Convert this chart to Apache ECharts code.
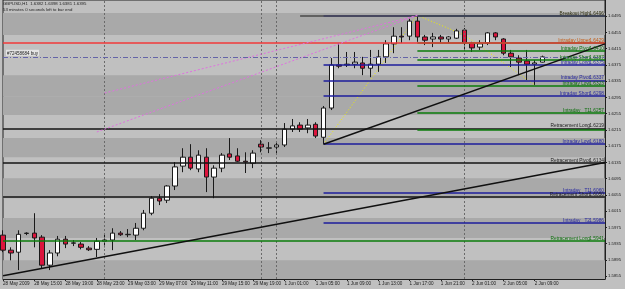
<!DOCTYPE html>
<html>
<head>
<meta charset="utf-8">
<script src="https://cdn.jsdelivr.net/npm/echarts@6/dist/echarts.min.js"></script>
<style>
html, body { margin: 0; padding: 0; background: #c0c0c0; }
#chart { width: 625px; height: 289px; }
</style>
</head>
<body>
<div id="chart"></div>
<script>
// hourly bars, GBPUSD H1 (last 8 slots are the empty shift area on the right)
const categories = [
  "28 May 11:00","28 May 12:00","28 May 13:00","28 May 14:00","28 May 15:00","28 May 16:00","28 May 17:00",
  "28 May 18:00","28 May 19:00","28 May 20:00","28 May 21:00","28 May 22:00","28 May 23:00",
  "29 May 00:00","29 May 01:00","29 May 02:00","29 May 03:00","29 May 04:00","29 May 05:00","29 May 06:00",
  "29 May 07:00","29 May 08:00","29 May 09:00","29 May 10:00","29 May 11:00","29 May 12:00","29 May 13:00",
  "29 May 14:00","29 May 15:00","29 May 16:00","29 May 17:00","29 May 18:00","29 May 19:00",
  "31 May 22:00","31 May 23:00",
  "1 Jun 00:00","1 Jun 01:00","1 Jun 02:00","1 Jun 03:00","1 Jun 04:00","1 Jun 05:00","1 Jun 06:00",
  "1 Jun 07:00","1 Jun 08:00","1 Jun 09:00","1 Jun 10:00","1 Jun 11:00","1 Jun 12:00","1 Jun 13:00",
  "1 Jun 14:00","1 Jun 15:00","1 Jun 16:00","1 Jun 17:00","1 Jun 18:00","1 Jun 19:00","1 Jun 20:00",
  "1 Jun 21:00","1 Jun 22:00","1 Jun 23:00",
  "2 Jun 00:00","2 Jun 01:00","2 Jun 02:00","2 Jun 03:00","2 Jun 04:00","2 Jun 05:00","2 Jun 06:00",
  "2 Jun 07:00","2 Jun 08:00","2 Jun 09:00","2 Jun 10:00",
  "2 Jun 11:00","2 Jun 12:00","2 Jun 13:00","2 Jun 14:00","2 Jun 15:00","2 Jun 16:00","2 Jun 17:00","2 Jun 18:00"
];
const firstLabel = "28 May 2009";
const barCount = 70;

const opens = [1.5956,1.5919,1.5914,1.5960,1.5961,1.5951,1.5882,1.5912,1.5946,1.5936,
  1.5934,1.5924,1.5921,1.5941,1.5944,1.5961,1.5957,1.5956,1.5973,1.6010,
  1.6047,1.6042,1.6077,1.6126,1.6148,1.6119,1.6148,1.6099,1.6121,1.6156,
  1.6151,1.6138,1.6133,1.6180,1.6170,1.6173,1.6178,1.6217,1.6227,1.6220,
  1.6229,1.6197,1.6269,1.6375,1.6375,1.6377,1.6380,1.6367,1.6377,1.6395,
  1.6427,1.6446,1.6446,1.6483,1.6444,1.6439,1.6444,1.6439,1.6441,1.6461,
  1.6429,1.6419,1.6429,1.6454,1.6439,1.6404,1.6392,1.6385,1.6377,1.6382];
const closes = [1.5919,1.5912,1.5958,1.5961,1.5949,1.5882,1.5912,1.5946,1.5934,1.5937,
  1.5926,1.5920,1.5941,1.5944,1.5961,1.5957,1.5958,1.5973,1.6010,1.6047,
  1.6040,1.6077,1.6124,1.6148,1.6121,1.6153,1.6099,1.6121,1.6153,1.6148,
  1.6138,1.6136,1.6158,1.6173,1.6171,1.6178,1.6217,1.6225,1.6217,1.6227,
  1.6200,1.6269,1.6375,1.6372,1.6377,1.6382,1.6367,1.6377,1.6395,1.6427,
  1.6446,1.6444,1.6483,1.6444,1.6436,1.6444,1.6439,1.6444,1.6459,1.6429,
  1.6417,1.6427,1.6454,1.6444,1.6404,1.6395,1.6382,1.6377,1.6380,1.6395];
const lows = [1.5914,1.5894,1.5870,1.5956,1.5926,1.5875,1.5870,1.5904,1.5924,1.5929,
  1.5921,1.5917,1.5902,1.5926,1.5919,1.5954,1.5951,1.5944,1.5968,1.6005,
  1.6030,1.6035,1.6067,1.6111,1.6116,1.6111,1.6062,1.6047,1.6111,1.6141,
  1.6136,1.6109,1.6121,1.6160,1.6158,1.6158,1.6173,1.6210,1.6210,1.6207,
  1.6195,1.6180,1.6264,1.6367,1.6370,1.6367,1.6350,1.6345,1.6358,1.6380,
  1.6404,1.6429,1.6436,1.6432,1.6424,1.6419,1.6429,1.6429,1.6439,1.6412,
  1.6407,1.6412,1.6424,1.6436,1.6399,1.6370,1.6350,1.6338,1.6326,1.6381];
const highs = [1.5968,1.5926,1.5968,1.5963,1.6010,1.5956,1.5919,1.5954,1.5954,1.5944,
  1.5939,1.5929,1.5949,1.5961,1.5973,1.5966,1.5971,1.5986,1.6018,1.6052,
  1.6057,1.6079,1.6136,1.6170,1.6180,1.6165,1.6170,1.6128,1.6158,1.6195,
  1.6170,1.6160,1.6165,1.6190,1.6185,1.6185,1.6232,1.6242,1.6234,1.6242,
  1.6234,1.6274,1.6392,1.6429,1.6407,1.6407,1.6395,1.6412,1.6412,1.6436,
  1.6468,1.6468,1.6491,1.6496,1.6449,1.6454,1.6449,1.6446,1.6464,1.6466,
  1.6432,1.6436,1.6456,1.6456,1.6441,1.6412,1.6399,1.6412,1.6387,1.6398];

const priceTicks = [1.5855,1.5895,1.5935,1.5975,1.6015,1.6055,1.6095,1.6135,1.6175,
  1.6215,1.6255,1.6295,1.6335,1.6375,1.6415,1.6455,1.6495];

// pivot / retracement levels drawn by the indicator
const levelNames = ["Breakout High","","","Intraday Upper","","Intraday Pivot","Intraday Short","Intraday Long",
  "Intraday Pivot","Intraday Low","Intraday Short","Intraday   T1","Retracement Long","","Intraday Low",
  "Retracement Pivot","Intraday   T1","Retracement Short","Intraday   T2","Retracement Long"];
const levelPrices = [1.6496,1.6496,1.6496,1.6429,1.6429,1.6410,1.6387,1.6375,1.6337,1.6323,1.6298,1.6257,
  1.6219,1.6216,1.6180,1.6134,1.6060,1.6050,1.5986,1.5941];
const levelFromBar = [53,41,38,53,0,53,53,41,41,53,41,53,0,53,41,0,41,0,41,0];
const levelSet = ["green","blue","dark","green","red","green","green","blue","blue","green","blue","green",
  "black","green","blue","black","blue","black","blue","green"];
const levelTone = ["dark","","","orange","","green","green","blue","blue","green","blue","green",
  "black","","blue","black","blue","black","blue","green"];

// trend lines [bar, price] -> [bar, price]
const trendFrom = [[0, 1.5856], [41, 1.6180]];
const trendTo = [[77, 1.6135], [77, 1.6427]];
// fan lines to the high
const fanFrom = [[13, 1.6306], [12, 1.6210]];
const fanTo = [[53, 1.6497], [53, 1.6497]];
// zigzag
const zigBars = [41, 53, 59, 68];
const zigPrices = [1.6180, 1.6497, 1.6449, 1.6326];

const orderPrice = 1.6395;
const orderLabel = "#72458684 buy";
const daySeparators = [13, 33, 35, 59];

// shaded zones
const zoneTop = [1.6503, 1.6350, 1.6298, 1.6195, 1.6096, 1.5998, 1.5894];
const zoneBottom = [1.6449, 1.6298, 1.6252, 1.6148, 1.6047, 1.5949, 1.5848];

const lineColors = { green: "#0b7d0b", blue: "#1e1e9c", black: "#151515", red: "#f23a3a", dark: "#4a4a4a" };
const toneColors = { green: "#0a6e0a", blue: "#2828a0", black: "#1e1e1e", orange: "#c25a12", dark: "#2e2e10" };
const font = "Liberation Sans";

const lastBar = categories.length - 1;
const last = barCount - 1;

const candles = opens.map((o, i) => [o, closes[i], lows[i], highs[i]]);

const levelLines = levelPrices.map((p, i) => {
  const name = levelNames[i];
  const tone = toneColors[levelTone[i]];
  return [
    {
      coord: [levelFromBar[i], p],
      lineStyle: { color: lineColors[levelSet[i]], width: 1.5, type: "solid" },
      label: name ? {
        show: true,
        position: "insideEndTop",
        distance: [1, 0],
        formatter: `{n|${name}}{v|${p.toFixed(4)}}`,
        rich: {
          n: { width: 43, fontSize: 4.8, color: tone, fontFamily: font },
          v: { width: 14, fontSize: 4.8, color: tone, fontFamily: font },
        },
      } : { show: false },
    },
    { coord: [lastBar, p] },
  ];
});

const trendLines = trendFrom.map((a, i) => [
  { coord: a, lineStyle: { color: "#101010", width: 1.5, type: "solid" } },
  { coord: trendTo[i] },
]);
const fanLines = fanFrom.map((a, i) => [
  { coord: a, lineStyle: { color: "#e070e0", width: 1, type: [2, 2] } },
  { coord: fanTo[i] },
]);

const orderLines = [
  [
    {
      coord: [0, orderPrice],
      lineStyle: { color: "#6464a8", width: 1, type: [5, 2, 1, 2] },
      label: {
        show: true, position: "insideStartTop", distance: [3, 1], formatter: orderLabel,
        fontSize: 4.5, fontFamily: font, color: "#202020", backgroundColor: "#e4e4e4", padding: [1, 1, 0, 1],
      },
    },
    { coord: [lastBar, orderPrice] },
  ],
  [
    {
      coord: [lastBar - 1, closes[last]],
      lineStyle: { opacity: 0 },
      label: {
        show: true, position: "end", distance: 2, formatter: closes[last].toFixed(4),
        fontSize: 4.5, fontFamily: font, color: "#ffffff", backgroundColor: "#000000", padding: [2, 1, 1, 1],
      },
    },
    { coord: [lastBar, closes[last]] },
  ],
];

const separatorLines = daySeparators.map((b) => ({
  xAxis: categories[b],
  lineStyle: { color: "#6a6a6a", width: 1, type: [2, 2] },
  label: { show: false },
}));

const zones = zoneTop.map((t, i) => [{ yAxis: t }, { yAxis: zoneBottom[i] }]);

const showLabel = (index) => index < barCount && index % 4 === 0;

const chart = echarts.init(document.getElementById("chart"), null, { renderer: "canvas" });
chart.setOption({
  backgroundColor: "#c0c0c0",
  animation: false,
  grid: { left: 0, right: 20, top: 0, bottom: 10, show: true, borderColor: "#202020", borderWidth: 1 },
  xAxis: {
    type: "category",
    data: categories,
    boundaryGap: false,
    axisLine: { lineStyle: { color: "#202020", width: 1 } },
    axisTick: { interval: (i) => showLabel(i), length: 2, lineStyle: { color: "#202020" } },
    axisLabel: {
      interval: (i) => showLabel(i),
      formatter: (v, i) => (i === 0 ? firstLabel : v),
      align: "left",
      margin: 2,
      fontSize: 4.6,
      color: "#1a1a1a",
      fontFamily: font,
    },
    splitLine: { show: false },
  },
  yAxis: {
    type: "value",
    position: "right",
    min: 1.5848,
    max: 1.6535,
    scale: true,
    axisLine: { show: true, lineStyle: { color: "#202020", width: 1 } },
    axisTick: { show: true, customValues: priceTicks, length: 2, lineStyle: { color: "#202020" } },
    axisLabel: {
      customValues: priceTicks,
      formatter: (v) => v.toFixed(4),
      margin: 3,
      fontSize: 4.3,
      color: "#1a1a1a",
      fontFamily: font,
    },
    splitLine: { show: false },
  },
  series: [
    {
      type: "line",
      data: [],
      silent: true,
      z: 1,
      markArea: { silent: true, itemStyle: { color: "#a9a9a9" }, data: zones },
    },
    {
      type: "line",
      data: [],
      silent: true,
      z: 2,
      markLine: {
        silent: true,
        symbol: ["none", "none"],
        animation: false,
        label: { show: false },
        data: [...separatorLines, ...levelLines, ...fanLines, ...trendLines, ...orderLines],
      },
    },
    {
      type: "line",
      data: zigBars.map((b, i) => [b, zigPrices[i]]),
      showSymbol: false,
      silent: true,
      z: 3,
      lineStyle: { color: "#f0f000", width: 1, type: [1, 2] },
    },
    {
      type: "candlestick",
      data: candles,
      barWidth: 5,
      z: 4,
      itemStyle: {
        color: "#ffffff",
        color0: "#dc143c",
        borderColor: "#1a1a1a",
        borderColor0: "#1a1a1a",
        borderWidth: 1,
      },
    },
  ],
  graphic: [
    {
      type: "text", left: 3, top: 2,
      style: {
        text: `GBPUSD,H1  ${opens[last].toFixed(4)} ${highs[last].toFixed(4)} ${lows[last].toFixed(4)} ${closes[last].toFixed(4)}`,
        fontSize: 4.3, fill: "#1e1e1e", fontFamily: font,
      },
    },
    {
      type: "text", left: 3, top: 8,
      style: { text: "53 minutes 0 seconds left to bar end", fontSize: 4.3, fill: "#1e1e1e", fontFamily: font },
    },
    {
      type: "text", left: 3, top: 268,
      style: { text: "FXDD - MetaTrader, © 2001-2008 MetaQuotes Software Corp.", fontSize: 6.2, fill: "#2a2a2a", fontFamily: font },
    },
  ],
});
</script>
</body>
</html>
